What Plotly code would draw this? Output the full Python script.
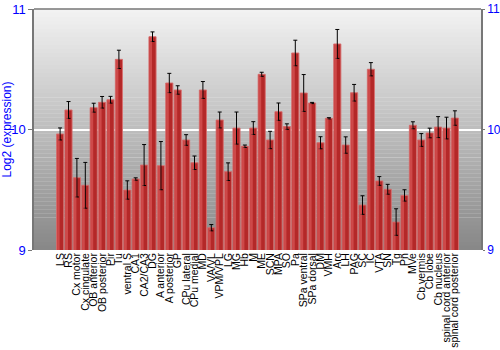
import plotly.graph_objects as go

categories = ["LS", "RS", "Cx motor", "Cx cingulate", "OB anterior", "OB posterior", "Pir", "Tu",
              "ventral S", "CA1", "CA2/CA3", "DG", "A anterior", "A posterior", "GP", "CPu lateral",
              "CPu medial", "MD", "VA/VL", "VPM/VPL", "LG", "MG", "Hb", "M", "ME", "SCN", "MPA",
              "SO", "Pa", "SPa ventral", "SPa dorsal", "DM", "VMH", "Arc", "LH", "PAG", "SC", "IC",
              "VTA", "SN", "Tg", "Pn", "MVe", "Cb vermis", "Cb lobe", "Cb nucleus",
              "spinal cord anterior", "spinal cord posterior"]

values = [9.963, 10.162, 9.60, 9.537, 10.181, 10.226, 10.247, 10.582,
          9.498, 9.589, 9.705, 10.77, 9.70, 10.386, 10.328, 9.913,
          9.724, 10.328, 9.185, 10.079, 9.65, 10.012, 9.861, 10.012, 10.458, 9.913, 10.148,
          10.024, 10.635, 10.303, 10.22, 9.89, 10.093, 10.71, 9.871, 10.305, 9.373, 10.50,
          9.573, 9.504, 9.232, 9.453, 10.035, 9.913, 9.971, 10.02,
          10.012, 10.095]

errors = [0.05, 0.07, 0.16, 0.19, 0.037, 0.048, 0.028, 0.076,
          0.076, 0.01, 0.17, 0.04, 0.20, 0.08, 0.035, 0.044,
          0.056, 0.07, 0.026, 0.066, 0.073, 0.133, 0.01, 0.053, 0.017, 0.072, 0.072,
          0.023, 0.106, 0.153, 0.005, 0.05, 0.005, 0.12, 0.068, 0.069, 0.077, 0.055,
          0.036, 0.041, 0.11, 0.047, 0.029, 0.053, 0.04, 0.087,
          0.09, 0.06]

y_ticks = [9, 10, 11]
y_range = [9, 11]

fig = go.Figure()

# gradient background strips
n = 60
shapes = []
for i in range(n):
    t = i / (n - 1)
    g = int(round(242 - (242 - 136) * t))
    shapes.append(dict(type="rect", xref="paper", yref="paper", x0=0, x1=1,
                       y0=1 - (i + 1) / n, y1=1 - i / n + 0.001,
                       fillcolor=f"rgb({g},{g},{g})", line=dict(width=0), layer="below"))
fig.update_layout(shapes=shapes)

fig.add_trace(go.Bar(
    x=categories, y=values,
    marker=dict(color="rgb(180,40,40)", line=dict(color="rgba(215,110,110,0.9)", width=1)),
    error_y=dict(type="data", array=errors, color="black", thickness=1, width=2),
    width=0.85,
))
# highlight on left side of each bar
fig.add_trace(go.Bar(
    x=categories, y=values, width=0.3, offset=-0.36,
    marker=dict(color="rgba(228,100,100,0.55)", line=dict(width=0)),
    hoverinfo="skip",
))
fig.add_trace(go.Scatter(x=categories, y=values, yaxis="y2", mode="markers",
                         marker=dict(opacity=0), hoverinfo="skip", showlegend=False))

fig.update_layout(
    width=500, height=350,
    margin=dict(l=34, r=19, t=9, b=100),
    paper_bgcolor="white",
    plot_bgcolor="rgba(0,0,0,0)",
    showlegend=False,
    barmode="overlay",
    font=dict(family="Liberation Sans, Arial, sans-serif"),
    xaxis=dict(tickangle=-90, tickfont=dict(size=10.5, color="black"), showgrid=False,
               tickmode="array", tickvals=categories, ticktext=categories,
               showline=False, ticks="", automargin=False),
    yaxis=dict(range=y_range, tickvals=y_ticks, tickfont=dict(size=13, color="blue"),
               title=dict(text="Log2 (expression)", font=dict(size=12, color="blue"), standoff=0),
               showgrid=True, gridcolor="white", gridwidth=1.5, zeroline=False,
               showline=True, linecolor="#777", linewidth=1.5, ticks="outside", ticklen=4,
               tickcolor="#777", automargin=False),
    yaxis2=dict(range=y_range, tickvals=y_ticks, tickfont=dict(size=12, color="blue"),
                overlaying="y", side="right", showgrid=False, zeroline=False,
                showline=True, linecolor="#777", linewidth=1.5, ticks="outside", ticklen=2,
                tickcolor="#777", automargin=False),
)
fig.add_shape(type="line", xref="paper", yref="paper", x0=0, x1=1, y0=1, y1=1,
              line=dict(color="#777", width=1.5))

fig.write_html("out.html")
